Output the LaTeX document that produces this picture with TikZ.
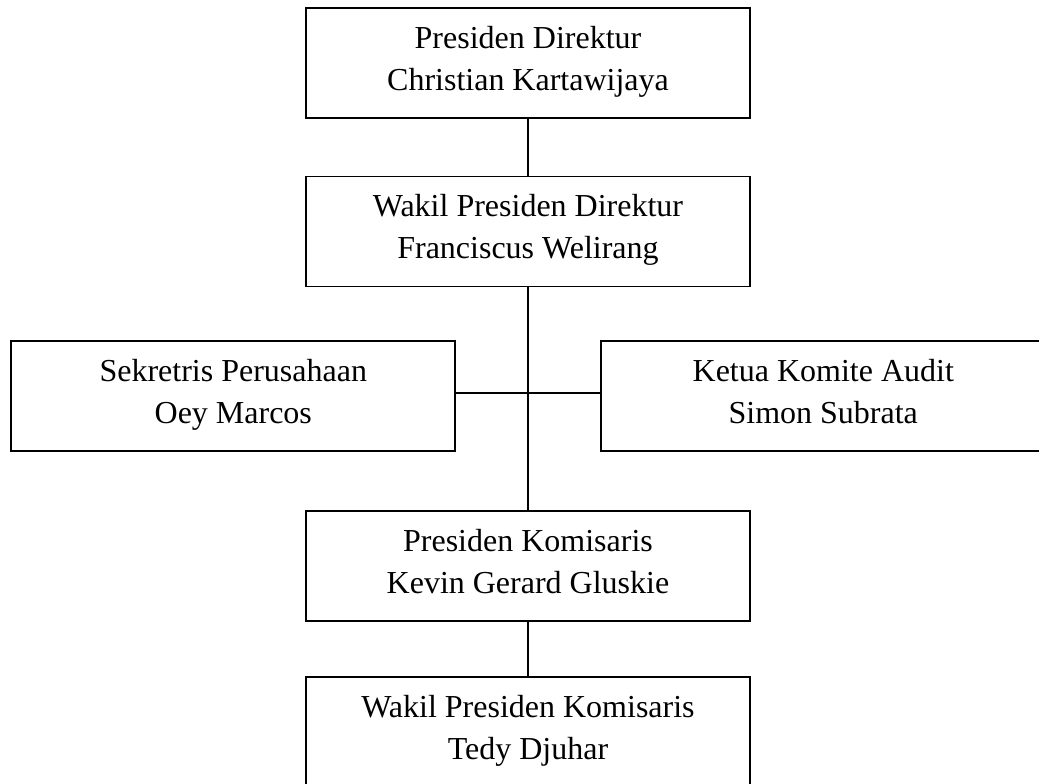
\documentclass[tikz,border=0pt]{standalone}
\usepackage{fontspec}
\setmainfont{Liberation Serif}
% struts so that every two-line label sits at the same height
\newcommand{\orgtop}{\rule{0pt}{22pt}}
\newcommand{\orgbot}{\rule[-12.5pt]{0pt}{12.5pt}}
\begin{document}
\begin{tikzpicture}[x=0.75pt,y=-0.75pt,
  orgbox/.style={draw, line width=1.4pt, rectangle, minimum width=333pt,
    minimum height=82.5pt, align=center, inner sep=0pt,
    font=\fontsize{24}{31.5}\selectfont},
  link/.style={line width=1.3pt}]
  \useasboundingbox (0,0) rectangle (1039,784);
  \clip (0,0) rectangle (1039,784);

  % main column
  \node[orgbox] (pd)  at (528,63)    {\orgtop Presiden Direktur\\Christian Kartawijaya\orgbot};
  \node[orgbox] (wpd) at (528,231.5) {\orgtop Wakil Presiden Direktur\\Franciscus Welirang\orgbot};
  \node[orgbox] (pk)  at (528,566)   {\orgtop Presiden Komisaris\\Kevin Gerard Gluskie\orgbot};
  \node[orgbox] (wpk) at (528,732)   {\orgtop Wakil Presiden Komisaris\\Tedy Djuhar\orgbot};

  % side boxes
  \node[orgbox] (sek) at (233.3,396) {\orgtop Sekretris Perusahaan\\Oey Marcos\orgbot};
  \node[orgbox] (kka) at (823.3,396) {\orgtop Ketua Komite Audit\\Simon Subrata\orgbot};

  % connectors
  \draw[link] (pd) -- (wpd);
  \draw[link] (wpd) -- (pk);
  \draw[link] (pk) -- (wpk);
  \draw[link] ([yshift=2.4pt]sek.east) -- ([yshift=2.4pt]kka.west);
\end{tikzpicture}
\end{document}
